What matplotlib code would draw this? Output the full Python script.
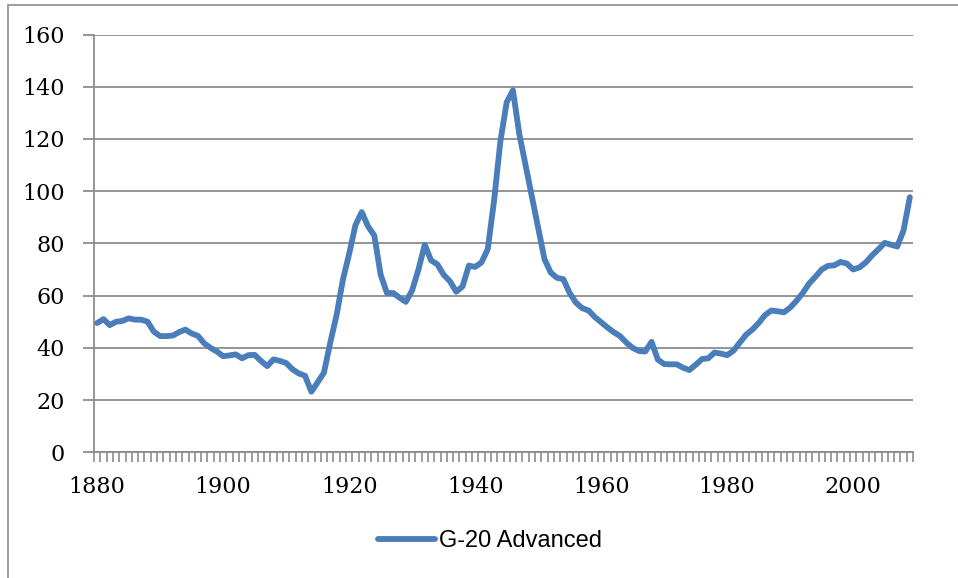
import matplotlib
matplotlib.use("Agg")
import matplotlib.pyplot as plt
from matplotlib.patches import Rectangle
import numpy as np

# G-20 advanced economies, debt-to-GDP ratio (%), 1880-2009
years = list(range(1880, 2010))
debt = [
    49.5, 51.0, 48.7, 50.0, 50.3, 51.3, 50.8, 50.8, 50.0, 46.2,   # 1880s
    44.5, 44.5, 44.7, 46.0, 47.0, 45.5, 44.6, 41.7, 40.0, 38.6,   # 1890s
    36.8, 37.1, 37.5, 36.0, 37.2, 37.3, 35.0, 33.0, 35.6, 35.0,   # 1900s
    34.2, 31.8, 30.2, 29.3, 23.2, 26.8, 30.5, 42.0, 52.5, 66.0,   # 1910s
    76.0, 87.0, 92.0, 86.5, 83.0, 68.0, 61.0, 61.0, 59.2, 57.6,   # 1920s
    62.0, 70.0, 79.5, 73.5, 72.0, 68.0, 65.5, 61.5, 63.5, 71.5,   # 1930s
    71.0, 72.7, 77.8, 96.3, 119.0, 134.0, 138.6, 122.0, 110.0, 98.0,  # 1940s
    86.0, 74.0, 68.8, 66.8, 66.3, 61.0, 57.3, 55.2, 54.3, 51.8,   # 1950s
    49.8, 47.8, 46.0, 44.5, 42.0, 40.0, 38.8, 38.6, 42.3, 35.5,   # 1960s
    33.8, 33.7, 33.7, 32.4, 31.5, 33.5, 35.7, 36.0, 38.2, 37.8,   # 1970s
    37.2, 38.9, 42.0, 45.0, 47.0, 49.5, 52.5, 54.3, 54.0, 53.6,   # 1980s
    55.4, 58.0, 61.0, 64.6, 67.2, 70.0, 71.4, 71.6, 72.9, 72.3,   # 1990s
    70.0, 70.8, 72.7, 75.4, 77.7, 80.2, 79.5, 78.8, 85.0, 97.7,   # 2000s
]
series_name = "G-20 Advanced"
y_ticks = list(range(0, 161, 20))
x_label_years = list(range(1880, 2001, 20))

W, H = 958, 578
fig = plt.figure(figsize=(W / 100, H / 100), dpi=100)

# outer chart-area border (only left/top visible in the crop)
fig.patches.append(Rectangle((7.5 / W, -0.05), 1.1, 1 - 5.5 / H + 0.05,
                             transform=fig.transFigure, fill=False,
                             edgecolor="#8c8c8c", linewidth=1.2))

ax = fig.add_axes([94 / W, 1 - 452.3 / H, 819 / W, (452.3 - 34.5) / H])

grid_c = "#8c8c8c"
x = np.arange(len(years))
ax.plot(x, debt, color="#4a7ebb", linewidth=4.2, solid_joinstyle="round",
        solid_capstyle="round", label=series_name, zorder=3)

ax.set_xlim(-0.5, len(years) - 0.5)
ax.set_ylim(0, 160)
ax.set_yticks(y_ticks)
ax.yaxis.grid(True, color=grid_c, linewidth=1.3)
ax.set_axisbelow(True)

ax.set_xticks([years.index(y) for y in x_label_years])
ax.set_xticklabels([str(y) for y in x_label_years])
ax.set_xticks(np.arange(-0.5, len(years), 1.0), minor=True)

serif = ["DejaVu Serif"]
for lab in ax.get_xticklabels() + ax.get_yticklabels():
    lab.set_family(serif)
    lab.set_fontsize(16)

ax.tick_params(axis="x", which="major", length=0, pad=17)
ax.tick_params(axis="x", which="minor", length=7, width=1.2,
               color=grid_c, direction="out")
ax.tick_params(axis="y", which="major", length=8, width=1.3,
               color=grid_c, direction="out", pad=13)

for sp in ("top", "right"):
    ax.spines[sp].set_visible(False)
for sp in ("left", "bottom"):
    ax.spines[sp].set_color(grid_c)
    ax.spines[sp].set_linewidth(1.3)

fig.legend(loc="center", bbox_to_anchor=(490 / W, 1 - 541 / H),
           frameon=False, handlelength=2.4, handletextpad=0.15,
           prop={"family": ["Liberation Sans", "DejaVu Sans"], "size": 17})

fig.savefig("out.png", dpi=100)
plt.close(fig)
